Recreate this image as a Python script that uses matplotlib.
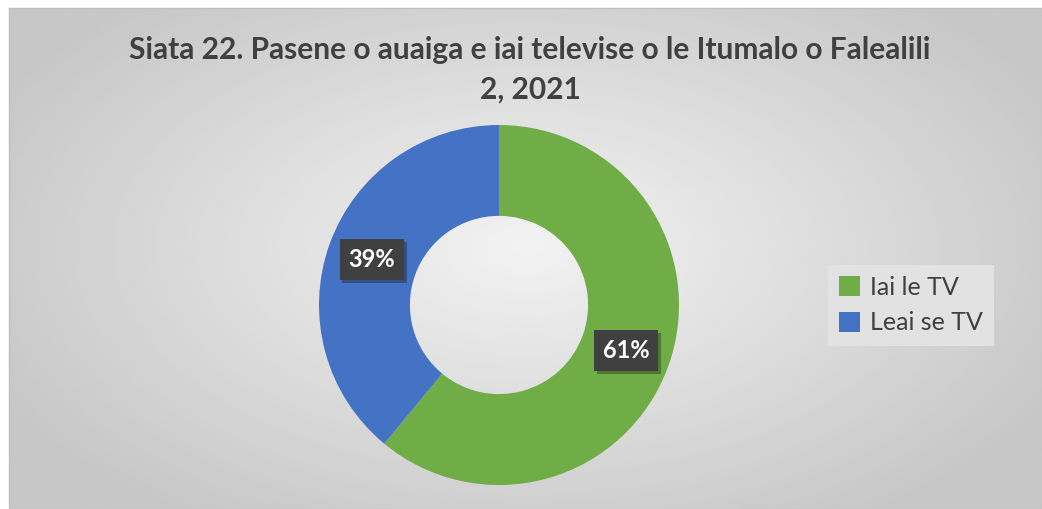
import numpy as np
import matplotlib
matplotlib.use('Agg')
import matplotlib.pyplot as plt
import matplotlib.patheffects as pe

# Data
labels = ['Iai le TV', 'Leai se TV']
values = [61, 39]
colors = ['#70ad47', '#4472c4']
title = 'Siata 22. Pasene o auaiga e iai televise o le Itumalo o Falealili\n2, 2021'

W, H = 1042, 509
fig = plt.figure(figsize=(W / 100, H / 100), dpi=100)
fig.patch.set_facecolor('white')

# chart area with radial gradient background
x0, y0 = 9, 8
bg = fig.add_axes([x0 / W, 0, (W - x0) / W, (H - y0) / H])
yy, xx = np.mgrid[0:200, 0:400]
cx, cy = 200, 95
d = np.sqrt(((xx - cx) / 230.0) ** 2 + ((yy - cy) / 130.0) ** 2)
d = np.clip(d, 0, 1)
shade = 0.95 - 0.17 * d
bg.imshow(shade, cmap='gray', vmin=0, vmax=1, aspect='auto', extent=[0, 1, 0, 1])
bg.set_xlim(0, 1)
bg.set_ylim(0, 1)
bg.set_xticks([])
bg.set_yticks([])
for s in bg.spines.values():
    s.set_color('#bfbfbf')
    s.set_linewidth(1)

fig.text(530 / W, 1 - 70 / H, title, ha='center', va='center', fontsize=21.5,
         fontweight='bold', color='#404040', family='Lato', linespacing=1.5)

# donut
cxp, cyp, r = 499, 305, 180
ax = fig.add_axes([(cxp - r) / W, (H - cyp - r) / H, 2 * r / W, 2 * r / H])
wedges, texts, autotexts = ax.pie(values, colors=colors, startangle=90, counterclock=False,
                                  radius=1, autopct='%1.0f%%', pctdistance=0.75,
                                  wedgeprops=dict(width=0.505, linewidth=0))
for t in autotexts:
    t.set_color('white')
    t.set_fontsize(17)
    t.set_fontweight('bold')
    t.set_family('Lato')
    t.set_bbox(dict(boxstyle='square,pad=0.38', facecolor='#404040', edgecolor='none'))
    t.get_bbox_patch().set_path_effects([pe.SimplePatchShadow(offset=(2, -2), alpha=0.35),
                                         pe.Normal()])
ax.set_xlim(-1, 1)
ax.set_ylim(-1, 1)
ax.set_aspect('auto')
ax.axis('off')

leg = fig.legend(wedges, labels, loc='center', bbox_to_anchor=(911 / W, 1 - 305 / H),
                 frameon=True, fancybox=False, handlelength=0.85, handleheight=0.85,
                 handletextpad=0.4, labelspacing=0.5, borderpad=0.45, borderaxespad=0,
                 prop={'family': 'Lato', 'size': 18})
leg.get_frame().set_facecolor('#e2e2e2')
leg.get_frame().set_edgecolor('none')
leg.get_frame().set_alpha(1)
for t in leg.get_texts():
    t.set_color('#404040')

fig.savefig('out.png', dpi=100)
